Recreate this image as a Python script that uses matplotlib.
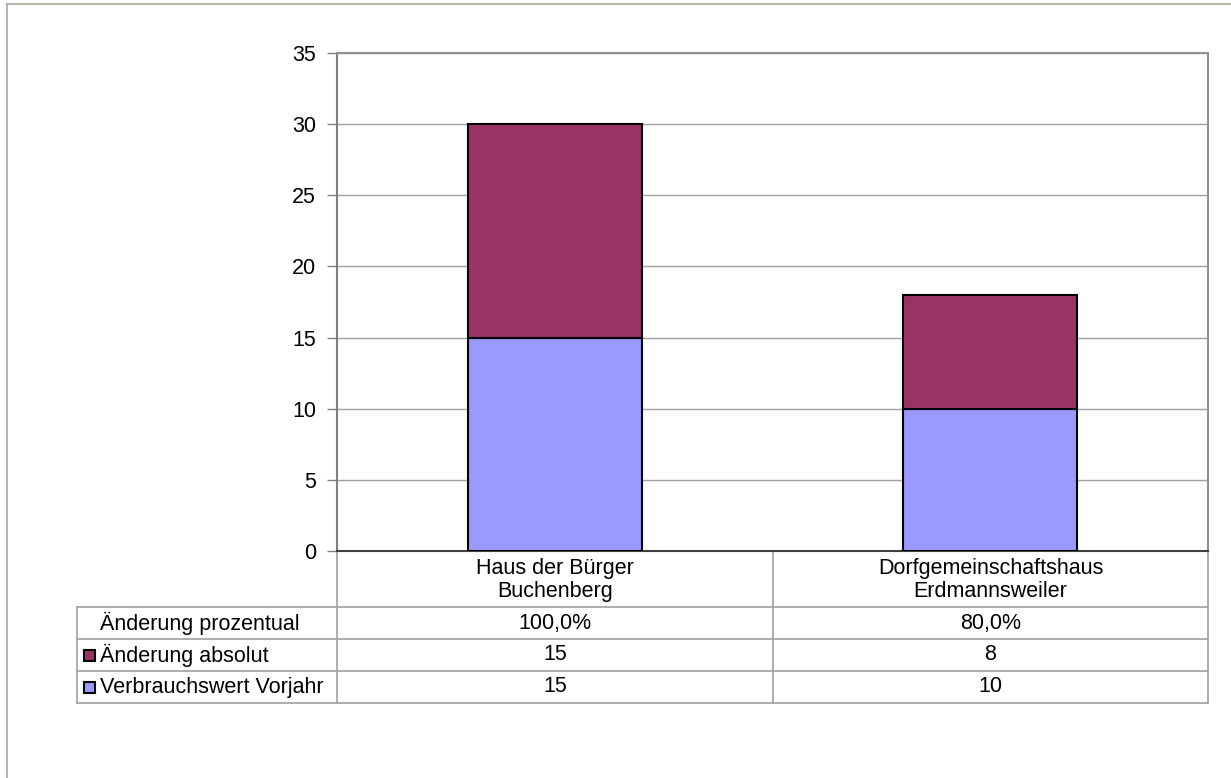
import matplotlib.pyplot as plt
from matplotlib.patches import Rectangle

plt.rcParams['font.family'] = ['Liberation Sans', 'DejaVu Sans']

# data
categories = ["Haus der Bürger\nBuchenberg", "Dorfgemeinschaftshaus\nErdmannsweiler"]
vorjahr = [15, 10]
aenderung_abs = [15, 8]
aenderung_pct = [100.0, 80.0]
row_labels = ["Änderung prozentual", "Änderung absolut", "Verbrauchswert Vorjahr"]
yticks = [0, 5, 10, 15, 20, 25, 30, 35]

COL_PREV = "#9999ff"
COL_ABS = "#993366"
GRID = "#a0a0a0"
FS = 15.5

W, H = 1231, 778
fig = plt.figure(figsize=(W / 100, H / 100), dpi=100)

# outer frame of the chart object
fig.add_artist(plt.Line2D([7 / W, 1], [1 - 4 / H, 1 - 4 / H], color="#b8b8a8", lw=1.5))
fig.add_artist(plt.Line2D([7 / W, 7 / W], [0, 1 - 4 / H], color="#a8a8a8", lw=1.2))

ax_l, ax_r, ax_t, ax_b = 337, 1208, 53, 551
ax = fig.add_axes([ax_l / W, 1 - ax_b / H, (ax_r - ax_l) / W, (ax_b - ax_t) / H])

x = list(range(len(categories)))
ax.bar(x, vorjahr, width=0.4, color=COL_PREV, edgecolor="black", lw=1.5, zorder=3)
ax.bar(x, aenderung_abs, width=0.4, bottom=vorjahr, color=COL_ABS, edgecolor="black", lw=1.5, zorder=3)

ax.set_xlim(-0.5, len(categories) - 0.5)
ax.set_ylim(0, 35)
ax.set_yticks(yticks)
ax.set_xticks([])
ax.tick_params(axis="y", length=7, width=1, color="#808080", labelsize=FS, pad=8)
ax.yaxis.grid(True, color=GRID, lw=1, zorder=0)
for s in ["top", "right"]:
    ax.spines[s].set_color("#909090")
    ax.spines[s].set_linewidth(1.5)
ax.spines["left"].set_color("#808080")
ax.spines["left"].set_linewidth(1.5)
ax.spines["bottom"].set_color("#404040")
ax.spines["bottom"].set_linewidth(1.5)

# data table below the axes (pixel layout -> axes fraction)
ph = ax_b - ax_t
pw = ax_r - ax_l
def fy(py):
    return (ax_b - py) / ph
def fx(px):
    return (px - ax_l) / pw

rows = [551, 607, 639, 671, 703]
tab_left = 77
col_x = [337, 773, 1208]
kw = dict(transform=ax.transAxes, clip_on=False, color=GRID, lw=1.2)

for py in rows[1:]:
    ax.plot([fx(tab_left), 1], [fy(py), fy(py)], **kw)
for px in col_x:
    ax.plot([fx(px), fx(px)], [0, fy(rows[-1])], **kw)
ax.plot([fx(tab_left), fx(tab_left)], [fy(rows[1]), fy(rows[-1])], **kw)

# header row with category names
for i, cat in enumerate(categories):
    cx = (col_x[i] + col_x[i + 1]) / 2
    ax.text(fx(cx), fy((rows[0] + rows[1]) / 2 + 1), cat, transform=ax.transAxes,
            ha="center", va="center", fontsize=FS, linespacing=1.1)

# value rows
values = [[f"{v:.1f}%".replace(".", ",") for v in aenderung_pct],
          [str(v) for v in aenderung_abs],
          [str(v) for v in vorjahr]]
swatch = [None, COL_ABS, COL_PREV]
for r in range(3):
    cy = (rows[r + 1] + rows[r + 2]) / 2
    ax.text(fx(100), fy(cy), row_labels[r], transform=ax.transAxes,
            ha="left", va="center", fontsize=FS)
    if swatch[r] is not None:
        ax.add_patch(Rectangle((fx(84), fy(cy + 5.5)), 11 / pw, 11 / ph, transform=ax.transAxes,
                               facecolor=swatch[r], edgecolor="black", lw=1.5, clip_on=False))
    for i in range(len(categories)):
        cx = (col_x[i] + col_x[i + 1]) / 2
        ax.text(fx(cx), fy(cy), values[r][i], transform=ax.transAxes,
                ha="center", va="center", fontsize=FS)

fig.savefig("out.png", dpi=100)
